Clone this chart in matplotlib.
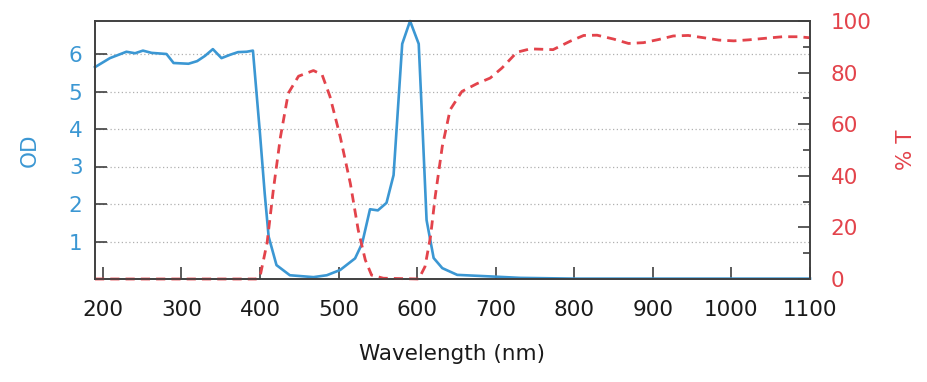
import matplotlib
matplotlib.use("Agg")
import matplotlib.pyplot as plt
from matplotlib.ticker import MultipleLocator

# Optical density (left axis)
wl_od = [190, 209, 230, 241, 251, 262, 281, 290, 309, 320, 330, 340, 351, 362,
         372, 383, 391, 400, 406, 411, 421, 438, 468, 485, 502, 521, 530, 540,
         550, 561, 570, 581, 591, 602, 607, 612, 621, 632, 651, 702, 731, 800,
         900, 1000, 1100]
od = [5.65, 5.89, 6.06, 6.02, 6.09, 6.03, 6.0, 5.76, 5.74, 5.81, 5.95, 6.13,
      5.89, 5.98, 6.05, 6.06, 6.09, 3.87, 2.28, 1.13, 0.37, 0.1, 0.05, 0.1,
      0.24, 0.55, 0.95, 1.86, 1.83, 2.03, 2.77, 6.27, 6.88, 6.27, 3.96, 1.57,
      0.56, 0.29, 0.11, 0.06, 0.03, 0.01, 0.01, 0.01, 0.01]

# Transmission % (right axis)
wl_t = [190, 395, 400, 409, 417, 426, 436, 449, 468, 479, 489, 502, 515, 525,
        534, 542, 557, 602, 610, 617, 623, 632, 642, 657, 676, 693, 708, 727,
        744, 773, 795, 812, 829, 850, 869, 888, 907, 926, 945, 965, 984, 1003,
        1022, 1043, 1065, 1085, 1100]
trans = [0, 0, 0.9, 14, 34.6, 55, 72, 78.6, 80.8, 79.2, 70.8, 55.3, 37, 19,
         7.4, 1.5, 0.3, 0, 4.8, 16.4, 32, 51.4, 65.6, 72.7, 75.7, 77.9, 81.8,
         87.9, 89.2, 88.9, 92.2, 94.4, 94.5, 93, 91.3, 91.6, 92.8, 94.2, 94.4,
         93.5, 92.6, 92.3, 92.7, 93.3, 93.9, 93.9, 93.5]

x_ticks = [200, 300, 400, 500, 600, 700, 800, 900, 1000, 1100]

blue = '#3b97d3'
red = '#e3434b'
spine_col = '#404040'

plt.rcParams['font.family'] = ['DejaVu Sans']

fig, ax = plt.subplots(figsize=(9.28, 3.82), dpi=100)
fig.subplots_adjust(left=95/928, right=810/928, top=1-21/382, bottom=1-279/382)
ax2 = ax.twinx()

ax.plot(wl_od, od, color=blue, lw=1.9, clip_on=False)
ax2.plot(wl_t, trans, color=red, lw=2.0, ls=(0, (3.3, 2.2)), clip_on=False)

ax.set_xlim(190, 1100)
ax.set_ylim(0, 6.88)
ax2.set_ylim(0, 100)

ax.set_xticks(x_ticks)
ax.set_yticks([1, 2, 3, 4, 5, 6])
ax2.set_yticks([0, 20, 40, 60, 80, 100])
ax2.yaxis.set_minor_locator(MultipleLocator(10))

ax.grid(axis='y', color='#b0b0b0', ls=(0, (1, 2)), lw=0.9)

for a in (ax, ax2):
    for s in a.spines.values():
        s.set_color(spine_col)
        s.set_linewidth(1.2)

ax.tick_params(axis='x', direction='in', length=8.5, width=1.2, color=spine_col,
               pad=15, labelsize=15.5, labelcolor='#1a1a1a')
ax.tick_params(axis='y', direction='in', length=8.5, width=1.2, color=spine_col,
               pad=9, labelsize=15.5, labelcolor=blue)
ax2.tick_params(axis='y', which='major', direction='in', length=8.5, width=1.2,
                color=spine_col, pad=15, labelsize=15.5, labelcolor=red)
ax2.tick_params(axis='y', which='minor', direction='in', length=5, width=1.2,
                color=spine_col)

ax.set_xlabel('Wavelength (nm)', fontsize=15.5, color='#1a1a1a')
ax.xaxis.set_label_coords(0.5, -0.25)
ax.set_ylabel('OD', fontsize=15.5, color=blue)
ax.yaxis.set_label_coords(-0.077, 0.5)
ax2.set_ylabel('% T', fontsize=15.5, color=red)
ax2.yaxis.set_label_coords(1.12, 0.5)

fig.savefig('out.png', dpi=100)
